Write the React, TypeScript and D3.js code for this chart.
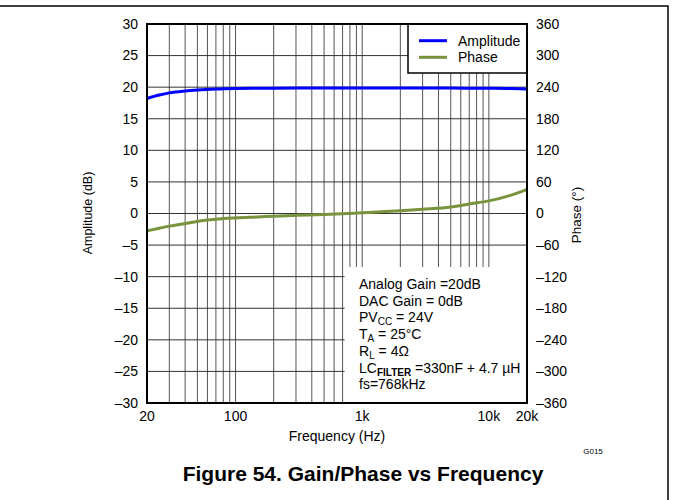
import React from "react";
import * as d3 from "d3";

const freqs = [20, 25, 30, 40, 50, 70, 100, 150, 200, 300, 500, 700, 1000, 2000, 3000, 5000, 7000, 10000, 15000, 20000];
const amplitudeDb = [18.2, 18.75, 19.1, 19.4, 19.55, 19.7, 19.78, 19.82, 19.84, 19.85, 19.85, 19.85, 19.85, 19.85, 19.85, 19.85, 19.84, 19.82, 19.78, 19.7];
const phaseDeg = [-33, -28, -24, -19, -15, -11, -8.5, -6.5, -5, -3.5, -2, -0.5, 1.5, 5, 8, 12.5, 18, 24, 35, 46];

const xTickValues = [20, 100, 1000, 10000, 20000];
const xTickLabels = ["20", "100", "1k", "10k", "20k"];
const leftTicks = [30, 25, 20, 15, 10, 5, 0, -5, -10, -15, -20, -25, -30];
const rightTicks = [360, 300, 240, 180, 120, 60, 0, -60, -120, -180, -240, -300, -360];

const legendItems = [
  { label: "Amplitude", color: "#0000ff" },
  { label: "Phase", color: "#77933c" },
];

const FONT = "Liberation Sans, Arial, sans-serif";
const fmt = (v: number) => (v < 0 ? "\u2013" + Math.abs(v) : String(v));

export default function App() {
  const W = 673, H = 500;
  const L = 147, R = 527, T = 24, B = 403;
  const x = d3.scaleLog().domain([20, 20000]).range([L, R]);
  const yA = d3.scaleLinear().domain([-30, 30]).range([B, T]);
  const yP = d3.scaleLinear().domain([-360, 360]).range([B, T]);

  const gridX: number[] = [];
  [10, 100, 1000, 10000].forEach((dec) => {
    for (let m = 1; m <= 9; m++) {
      const f = dec * m;
      if (f > 20 && f < 20000) gridX.push(f);
    }
  });
  const gridY = leftTicks.filter((v) => v > -30 && v < 30);

  const lineA = d3.line<number>().x((_, i) => x(freqs[i])).y((d) => yA(d)).curve(d3.curveMonotoneX);
  const lineP = d3.line<number>().x((_, i) => x(freqs[i])).y((d) => yP(d)).curve(d3.curveMonotoneX);

  const annX = x(700) + 2;
  const annTop = 267;
  const textX = 359;
  const lineY0 = 289;
  const dyLine = 16.7;

  return (
    <svg width={W} height={H} style={{ position: "absolute", left: 0, top: 0, background: "#fff" }} fontFamily={FONT}>
      <rect x={0} y={0} width={W} height={H} fill="#fff" />
      <path d="M0,6 H668 V500" fill="none" stroke="#000" strokeWidth={1.5} />
      {/* grid */}
      {gridX.map((f) => (
        <line key={"gx" + f} x1={x(f)} x2={x(f)} y1={T} y2={B} stroke="#555" strokeWidth={1} />
      ))}
      {gridY.map((v) => (
        <line key={"gy" + v} x1={L} x2={R} y1={yA(v)} y2={yA(v)} stroke="#333" strokeWidth={1} />
      ))}
      {/* annotation box */}
      <rect x={annX} y={annTop} width={R - annX} height={B - annTop} fill="#fff" />
      <g fontSize={14} fill="#000">
        <text x={textX} y={lineY0}>Analog Gain =20dB</text>
        <text x={textX} y={lineY0 + dyLine}>DAC Gain = 0dB</text>
        <text x={textX} y={lineY0 + dyLine * 2}>
          PV<tspan fontSize={10} dy={3}>CC</tspan><tspan dy={-3}> = 24V</tspan>
        </text>
        <text x={textX} y={lineY0 + dyLine * 3}>
          T<tspan fontSize={10} dy={3}>A</tspan><tspan dy={-3}> = 25°C</tspan>
        </text>
        <text x={textX} y={lineY0 + dyLine * 4}>
          R<tspan fontSize={10} dy={3}>L</tspan><tspan dy={-3}> = 4Ω</tspan>
        </text>
        <text x={textX} y={lineY0 + dyLine * 5}>
          LC<tspan fontSize={10} fontWeight="bold" dy={3}>FILTER</tspan><tspan dy={-3}> =330nF + 4.7 µH</tspan>
        </text>
        <text x={textX} y={lineY0 + dyLine * 6}>fs=768kHz</text>
      </g>
      {/* legend */}
      <rect x={408} y={T} width={R - 408} height={73 - T} fill="#fff" stroke="#000" strokeWidth={1.5} />
      {legendItems.map((it, i) => (
        <g key={it.label}>
          <line x1={419} x2={447} y1={40.7 + i * 16.6} y2={40.7 + i * 16.6} stroke={it.color} strokeWidth={3} />
          <text x={458} y={45.7 + i * 16.6} fontSize={14}>{it.label}</text>
        </g>
      ))}
      {/* curves */}
      <path d={lineP(phaseDeg) || ""} fill="none" stroke="#77933c" strokeWidth={3} />
      <path d={lineA(amplitudeDb) || ""} fill="none" stroke="#0000ff" strokeWidth={3} />
      {/* frame */}
      <rect x={L} y={T} width={R - L} height={B - T} fill="none" stroke="#000" strokeWidth={2} />
      {/* left ticks */}
      {leftTicks.map((v) => (
        <text key={"l" + v} x={138} y={yA(v)} dy="0.35em" textAnchor="end" fontSize={14}>{fmt(v)}</text>
      ))}
      {rightTicks.map((v) => (
        <text key={"r" + v} x={536} y={yP(v)} dy="0.35em" textAnchor="start" fontSize={14}>{fmt(v)}</text>
      ))}
      {xTickValues.map((f, i) => (
        <text key={"x" + f} x={x(f)} y={421} textAnchor="middle" fontSize={14}>{xTickLabels[i]}</text>
      ))}
      <text x={337} y={441} textAnchor="middle" fontSize={14}>Frequency (Hz)</text>
      <text transform="translate(92,213) rotate(-90)" textAnchor="middle" fontSize={12.5}>Amplitude (dB)</text>
      <text transform="translate(581,215) rotate(-90)" textAnchor="middle" fontSize={13.5}>Phase (°)</text>
      <text x={593} y={454} textAnchor="middle" fontSize={8}>G015</text>
      <text x={363} y={481} textAnchor="middle" fontSize={21} fontWeight="bold">Figure 54. Gain/Phase vs Frequency</text>
    </svg>
  );
}
